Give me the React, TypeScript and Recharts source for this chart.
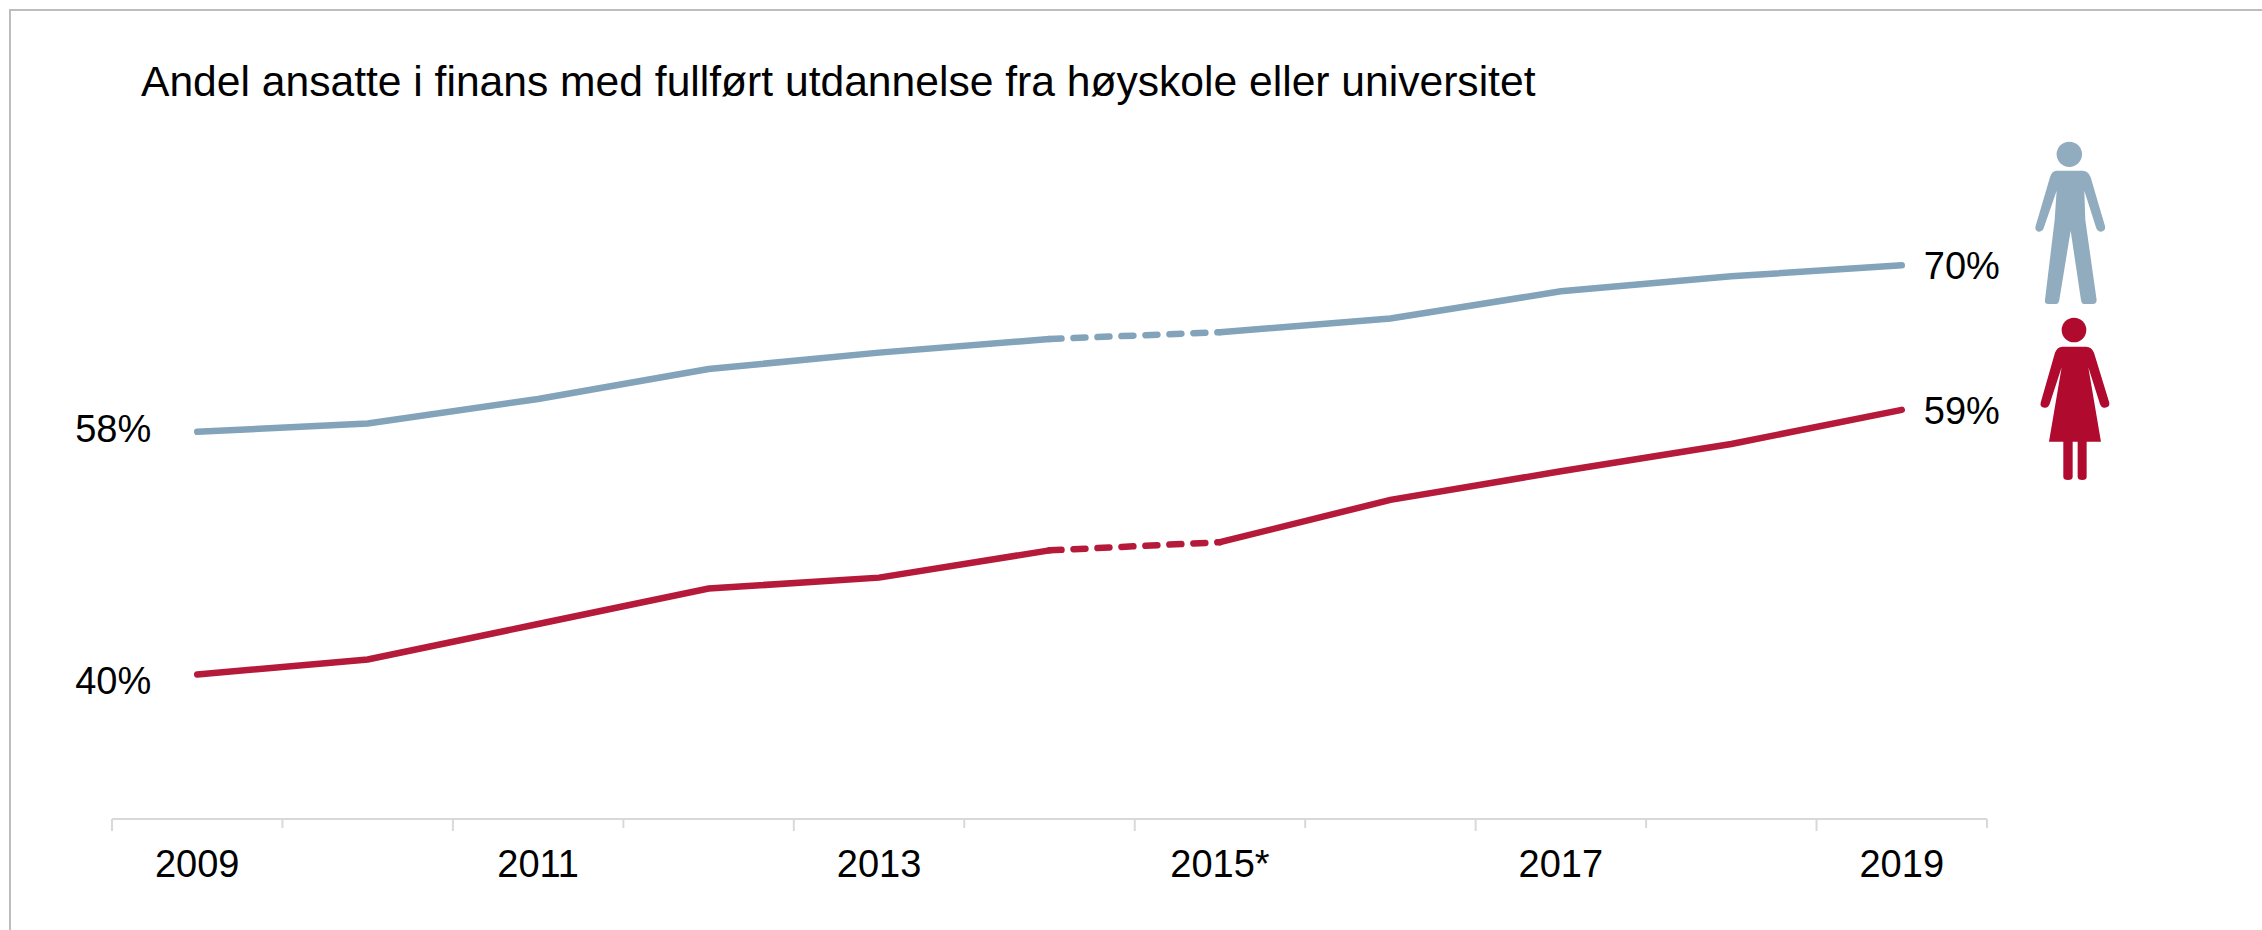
import { Line, LineChart, XAxis, YAxis } from "recharts";

// Andel ansatte i finans med fullført høyere utdanning, 2009-2019
const years = [2009, 2010, 2011, 2012, 2013, 2014, 2015, 2016, 2017, 2018, 2019];
const menValues = [57.8, 58.4, 60.2, 62.4, 63.6, 64.6, 65.1, 66.1, 68.1, 69.2, 70.0];
const womenValues = [40.0, 41.1, 43.7, 46.3, 47.1, 49.1, 49.7, 52.8, 54.9, 56.9, 59.4];
const labelYears = [2009, 2011, 2013, 2015, 2017, 2019];
const majorBoundaries = [2008.5, 2010.5, 2012.5, 2014.5, 2016.5, 2018.5];
const boundaries = [2008.5, 2009.5, 2010.5, 2011.5, 2012.5, 2013.5, 2014.5, 2015.5, 2016.5, 2017.5, 2018.5, 2019.5];
const menLabels: Record<number, string> = { 2019: "70%" };
const womenLabels: Record<number, string> = { 2019: "59%" };
const menStartLabels: Record<number, string> = { 2009: "58%" };
const womenStartLabels: Record<number, string> = { 2009: "40%" };
const title = "Andel ansatte i finans med fullført utdannelse fra høyskole eller universitet";

const BLUE = "#82A3BA";
const RED = "#B51A3A";
const FONT = "'Liberation Sans', Arial, sans-serif";

// 2014-2015 is a break in the statistics, so it gets its own dashed piece
const breakFrom = 2014;
const breakTo = 2015;
const data = years.map((year, i) => ({
  year,
  menBefore: year <= breakFrom ? menValues[i] : null,
  menBreak: year >= breakFrom && year <= breakTo ? menValues[i] : null,
  menAfter: year >= breakTo ? menValues[i] : null,
  womenBefore: year <= breakFrom ? womenValues[i] : null,
  womenBreak: year >= breakFrom && year <= breakTo ? womenValues[i] : null,
  womenAfter: year >= breakTo ? womenValues[i] : null,
}));

function endLabel(texts: Record<number, string>, side: "left" | "right", dy: number) {
  return function EndDot(props: any) {
    const text = texts[props.payload?.year];
    if (!text) return <g key={props.key} />;
    return (
      <text
        key={props.key}
        x={side === "left" ? props.cx - 46 : props.cx + 22}
        y={props.cy + dy}
        textAnchor={side === "left" ? "end" : "start"}
        fontFamily={FONT}
        fontSize={38}
        fill="#000"
      >
        {text}
      </text>
    );
  };
}

// one axis carries both the boundary marks and the year labels
function AxisTick(props: any) {
  const value = props.payload.value;
  if (boundaries.includes(value)) {
    const long = majorBoundaries.includes(value);
    return <line x1={props.x} x2={props.x} y1={819} y2={long ? 831 : 828} stroke="#D9D9D9" strokeWidth={2} />;
  }
  return (
    <text x={props.x} y={877} textAnchor="middle" fontFamily={FONT} fontSize={38} fill="#000">
      {value === 2015 ? "2015*" : String(value)}
    </text>
  );
}

function PeopleIcons() {
  return (
    <svg width={2262} height={930} style={{ position: "absolute", left: 0, top: 0, pointerEvents: "none" }}>
      <g transform="translate(1900 120) scale(0.3333)">
        <circle cx={508} cy={103} r={38} fill="#91ABBF" />
        <path
          fill="#91ABBF"
          d="M470 152 L548 152 Q565 152 572 172 L615 318 Q618 332 604 335 Q592 336 588 322 L553 212 L556 300 L590 540 Q590 552 578 552 L552 552 Q545 552 543 540 L512 332 L478 540 Q476 552 468 552 L445 552 Q433 552 435 540 L464 300 L470 212 L432 322 Q428 336 416 335 Q403 332 407 318 L450 172 Q455 152 470 152 Z"
        />
        <circle cx={522} cy={630} r={37} fill="#B00A2E" />
        <path
          fill="#B00A2E"
          d="M487 680 L558 680 Q575 680 582 698 L628 848 Q630 862 614 863 Q604 864 600 852 L565 742 L603 965 L560 965 L560 1070 Q560 1080 547 1080 Q533 1080 533 1070 L533 965 L518 965 L518 1070 Q518 1080 504 1080 Q490 1080 490 1070 L490 965 L447 965 L485 742 L449 852 Q445 864 434 863 Q419 862 422 848 L465 698 Q472 680 487 680 Z"
        />
      </g>
    </svg>
  );
}

export default function App() {
  const lineProps = { type: "linear" as const, strokeWidth: 6.5, strokeLinecap: "round" as const, isAnimationActive: false, connectNulls: false };
  const axisTicks = [...boundaries, ...labelYears].sort((a, b) => a - b);
  return (
    <div style={{ position: "absolute", left: 0, top: 0, width: 2262, height: 930, overflow: "hidden", background: "#fff" }}>
      <div style={{ position: "absolute", left: 9, top: 9, width: 2300, height: 1000, border: "2px solid #BDBDBD" }} />
      <div style={{ position: "absolute", left: 141, top: 57, fontFamily: FONT, fontSize: 42.6, color: "#000", whiteSpace: "nowrap" }}>
        {title}
      </div>
      <div style={{ position: "absolute", left: 0, top: 0 }}>
        <LineChart
          width={2262}
          height={930}
          data={data}
          margin={{ top: 129, right: 275, bottom: 110, left: 112 }}
        >
          <XAxis
            dataKey="year"
            type="number"
            domain={[2008.5, 2019.5]}
            ticks={axisTicks}
            tick={<AxisTick />}
            tickLine={false}
            axisLine={{ stroke: "#D9D9D9", strokeWidth: 2 }}
            height={1}
            interval={0}
          />
          <YAxis hide domain={[29.4, 80]} />
          <Line {...lineProps} dataKey="menBefore" stroke={BLUE} dot={endLabel(menStartLabels, "left", 10)} />
          <Line {...lineProps} dataKey="menBreak" stroke={BLUE} strokeDasharray="12 12" dot={false} />
          <Line {...lineProps} dataKey="menAfter" stroke={BLUE} dot={endLabel(menLabels, "right", 14)} />
          <Line {...lineProps} dataKey="womenBefore" stroke={RED} dot={endLabel(womenStartLabels, "left", 20)} />
          <Line {...lineProps} dataKey="womenBreak" stroke={RED} strokeDasharray="12 12" dot={false} />
          <Line {...lineProps} dataKey="womenAfter" stroke={RED} dot={endLabel(womenLabels, "right", 14)} />
        </LineChart>
      </div>
      <PeopleIcons />
    </div>
  );
}
